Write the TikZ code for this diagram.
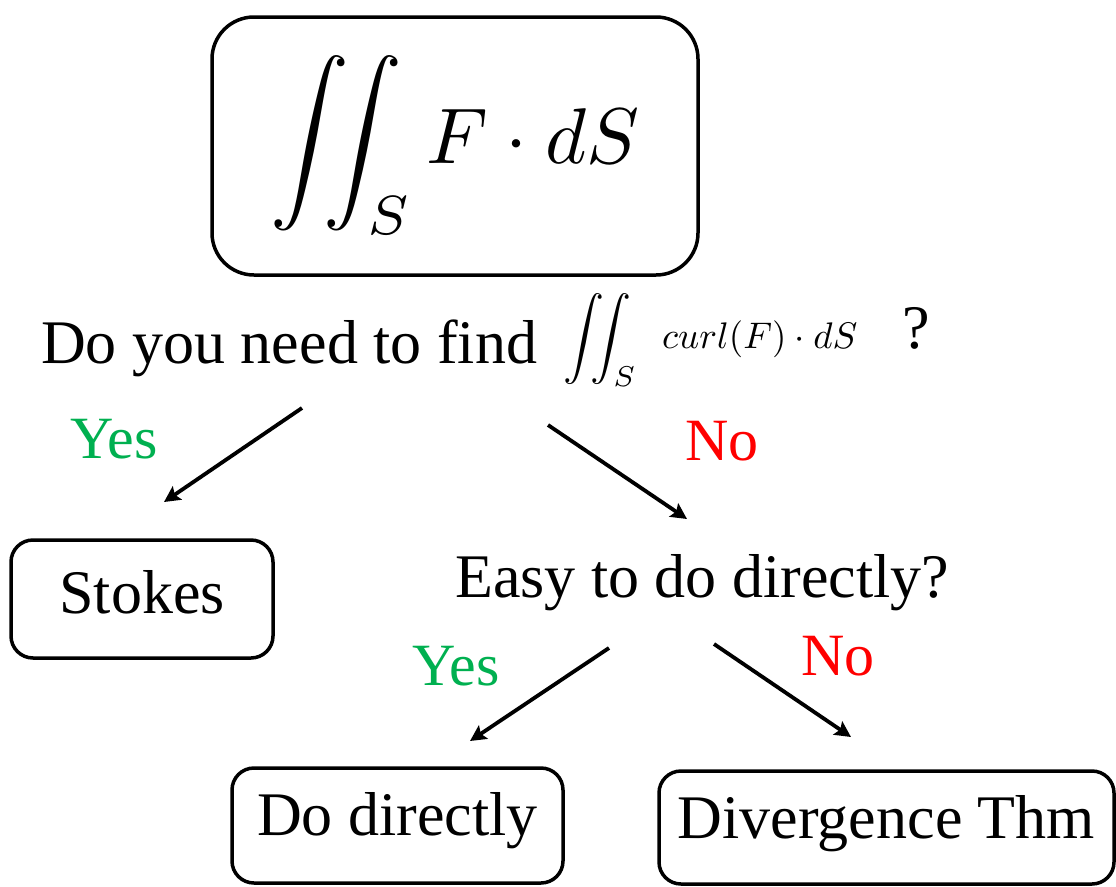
\documentclass[tikz,border=0pt]{standalone}
\usepackage{amsmath}
\usepackage{graphicx}
\usepackage{fontspec}
\setmainfont{Liberation Serif}
\usetikzlibrary{arrows.meta}
\definecolor{yesgreen}{RGB}{0,176,80}
\definecolor{nored}{RGB}{255,0,0}
\newcommand{\myfs}[1]{\fontsize{#1}{#1}\selectfont}
\newcommand{\mymath}[2]{{\fontsize{10}{12}\selectfont\scalebox{#1}{$\displaystyle #2$}}}
\begin{document}
\begin{tikzpicture}[x=1pt,y=-1pt,
  rbox/.style={draw, line width=3.5pt, inner sep=0pt, anchor=base, font=\myfs{62}},
  plain/.style={inner sep=0pt, anchor=base west, font=\myfs{62}},
  lab/.style={inner sep=0pt, anchor=base west, font=\myfs{60}},
  conn/.style={line width=3.8pt, -{Stealth[length=16pt,width=16pt,inset=3pt]}}]
\useasboundingbox (0,0) rectangle (1116,886);
% boxes
\node[rbox, rounded corners=42pt, minimum width=486pt, text height=146pt, text depth=112pt] (top) at (455,163) {\mymath{7.9}{\iint_S F\cdot dS}};
\node[rbox, rounded corners=22pt, minimum width=262pt, text height=73pt, text depth=45pt] (stokes) at (142,613) {Stokes};
\node[rbox, rounded corners=22pt, minimum width=331pt, text height=67pt, text depth=48pt] (direct) at (397.5,835) {Do directly};
\node[rbox, rounded corners=22pt, minimum width=455pt, text height=67pt, text depth=46pt] (div) at (886.5,838) {Divergence Thm};
% question texts
\node[plain] (q) at (41,363) {Do you need to find};
\node[plain] (qint) at (563,349) {\mymath{4.1}{\iint_S}};
\node[plain] (qcurl) at (662,348) {\mymath{3.7}{curl(F)\cdot dS}};
\node[plain] (qmark) at (902,348) {?};
\node[plain] (easy) at (455,597) {Easy to do directly?};
% labels
\node[lab, text=yesgreen] (yes1) at (70,458) {Yes};
\node[lab, text=nored] (no1) at (685,460) {No};
\node[lab, text=yesgreen] (yes2) at (412,685) {Yes};
\node[lab, text=nored] (no2) at (801,675) {No};
% arrows
\coordinate (a1s) at (302,408);
\coordinate (a1e) at (164,502);
\coordinate (a2s) at (548,425);
\coordinate (a2e) at (687,519);
\coordinate (a3s) at (609,648);
\coordinate (a3e) at (470,741);
\coordinate (a4s) at (714,644);
\coordinate (a4e) at (851,737);
\draw[conn] (a1s) -- (a1e);
\draw[conn] (a2s) -- (a2e);
\draw[conn] (a3s) -- (a3e);
\draw[conn] (a4s) -- (a4e);
\end{tikzpicture}
\end{document}
